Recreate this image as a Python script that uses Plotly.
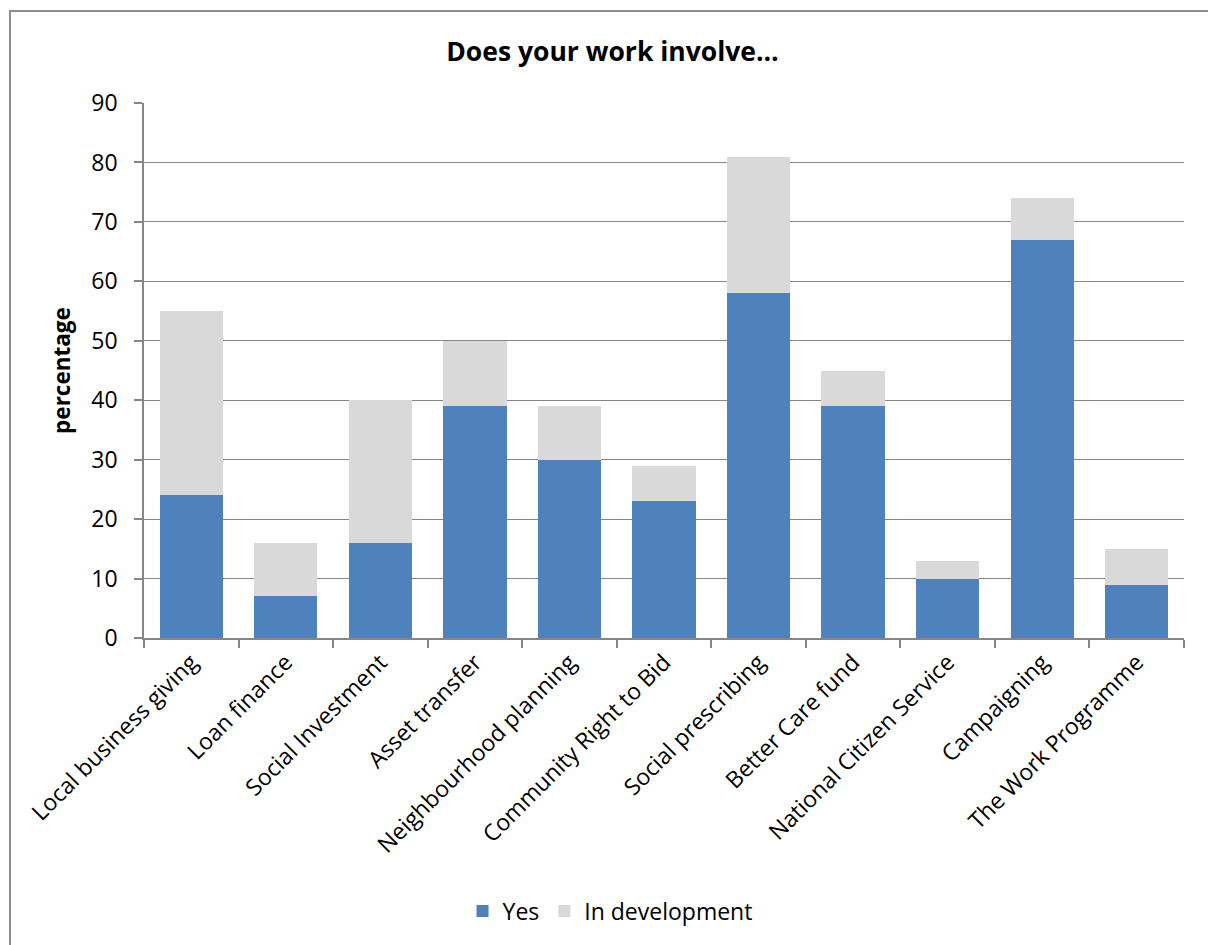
import plotly.graph_objects as go

categories = [
    "Local business giving", "Loan finance", "Social Investment", "Asset transfer",
    "Neighbourhood planning", "Community Right to Bid", "Social prescribing",
    "Better Care fund", "National Citizen Service", "Campaigning", "The Work Programme",
]
yes_values = [24, 7, 16, 39, 30, 23, 58, 39, 10, 67, 9]
in_development = [31, 9, 24, 11, 9, 6, 23, 6, 3, 7, 6]
y_ticks = [0, 10, 20, 30, 40, 50, 60, 70, 80, 90]

FONT = "Open Sans"
GRID = "#868686"

fig = go.Figure()
fig.add_bar(x=categories, y=yes_values, name="Yes", marker=dict(color="#4F81BD", line_width=0))
fig.add_bar(x=categories, y=in_development, name="In development",
            marker=dict(color="#D9D9D9", line_width=0))

W, H = 1208, 945
L, R, T, B = 144, 1184, 103, 638

fig.update_layout(
    width=W, height=H,
    barmode="stack", bargap=0.33,
    plot_bgcolor="white", paper_bgcolor="white",
    margin=dict(l=L, r=W - R, t=T, b=H - B, autoexpand=False),
    font=dict(family=FONT, size=23, color="black"),
    title=dict(text="<b>Does your work involve…</b>", x=0.507, xanchor="center",
               y=1 - 52 / H, yanchor="middle", font=dict(size=26.5, family=FONT)),
    showlegend=True,
    legend=dict(orientation="h", x=0.505, xref="container", xanchor="center",
                y=1 - 911 / H, yref="container", yanchor="middle",
                font=dict(size=23, family=FONT), traceorder="normal"),
    xaxis=dict(type="category", showline=True, linecolor=GRID, linewidth=1.5,
               ticks="outside", tickson="boundaries", ticklen=8, tickcolor=GRID,
               tickwidth=1.5, tickangle=-45, showgrid=False,
               tickfont=dict(size=23, family=FONT)),
    yaxis=dict(range=[0, 90], tickvals=y_ticks, showgrid=True, gridcolor=GRID,
               gridwidth=1.2, showline=True, linecolor=GRID, linewidth=1.5,
               ticks="outside", ticklen=8, tickcolor=GRID, tickwidth=1.5,
               ticklabelstandoff=12,
               zeroline=False, tickfont=dict(size=23, family=FONT),
               title=dict(text="<b>percentage</b>", font=dict(size=22.5, family=FONT),
                          standoff=14)),
)

# chart frame
fig.add_shape(type="rect", xref="paper", yref="paper",
              x0=(10 - L) / (R - L), x1=(1220 - L) / (R - L),
              y0=(B - 960) / (B - T), y1=(B - 11) / (B - T),
              line=dict(color="#8C8C8C", width=2), fillcolor="rgba(0,0,0,0)", layer="below")

fig.write_html("out.html")
